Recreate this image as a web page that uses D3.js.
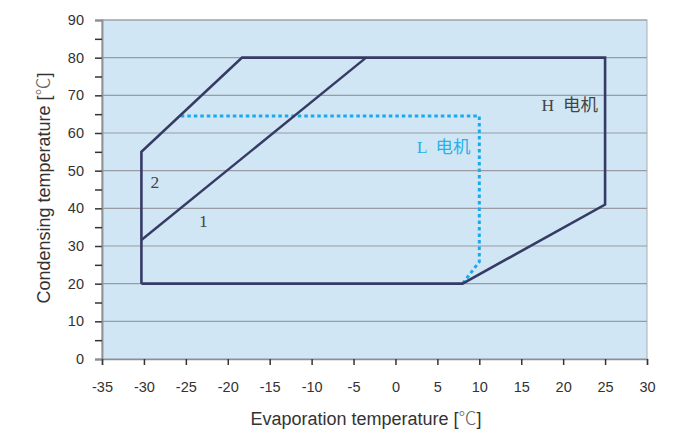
<!DOCTYPE html>
<html lang="en">
  <head>
    <meta charset="UTF-8" />
    <title>Operating envelope</title>
    <script src="https://d3js.org/d3.v7.min.js"></script>
    <style>
      body {
        margin: 0;
        background: #fff;
        font-family: "Liberation Sans", Arial, sans-serif;
      }
      .tick text {
        font-size: 14.5px;
        fill: #333;
      }
      .axis-title {
        font-size: 18px;
        fill: #333;
      }
      .deg {
        font-family: "Noto Sans CJK SC", sans-serif;
        font-weight: 300;
        fill: #666;
      }
      .zone {
        font-family: "Liberation Serif", "Noto Sans CJK SC", serif;
        font-size: 17.5px;
        white-space: pre;
      }
    </style>
  </head>
  <body>
    <svg id="chart" width="684" height="433"></svg>
    <script>
      // evaporation temp (x), condensing temp (y)
      let xTicks = [-35, -30, -25, -20, -15, -10, -5, 0, 5, 10, 15, 20, 25, 30];
      let yTicks = [0, 10, 20, 30, 40, 50, 60, 70, 80, 90];
      let yMinor = [5, 15, 25, 35, 45, 55, 65, 75, 85];

      // H motor envelope
      let hEnvelope = [
        [-30.3, 20],
        [-30.3, 55],
        [-18.3, 80],
        [25, 80],
        [25, 41],
        [8, 20],
        [-30.3, 20],
      ];
      // divider between zone 1 and zone 2
      let divider = [
        [-30.3, 31.6],
        [-3.5, 80],
      ];
      // L motor limit (dotted)
      let lEnvelope = [
        [-25.6, 64.5],
        [10, 64.5],
        [10, 25.8],
        [8, 20],
      ];
      let zoneLabels = [
        { x: -28.7, y: 46.4, text: "2", color: "#444" },
        { x: -22.9, y: 36.2, text: "1", color: "#444" },
      ];
      let motorLabels = [
        { x: 24.15, y: 66.9, text: "H  电机", color: "#444" },
        { x: 8.95, y: 55.8, text: "L  电机", color: "#29b0ea" },
      ];

      let svg = d3.select("#chart");
      let mLeft = 102,
        mRight = 647,
        mTop = 20,
        mBottom = 359;

      let x = d3.scaleLinear().domain([-35, 30]).range([mLeft, mRight]);
      let y = d3.scaleLinear().domain([0, 90]).range([mBottom, mTop]);

      // background
      svg
        .append("rect")
        .attr("x", mLeft)
        .attr("y", mTop)
        .attr("width", mRight - mLeft)
        .attr("height", mBottom - mTop)
        .attr("fill", "#d1e6f4")
        .attr("stroke", "#a8adb3")
        .attr("stroke-width", 1);

      // horizontal grid
      svg
        .append("g")
        .selectAll("line")
        .data(yTicks.slice(1))
        .join("line")
        .attr("x1", mLeft)
        .attr("x2", mRight)
        .attr("y1", (d) => y(d))
        .attr("y2", (d) => y(d))
        .attr("stroke", "#989ca2")
        .attr("stroke-width", 1.2);

      // axes
      let fmt = (d) => String(d);
      svg
        .append("g")
        .attr("transform", `translate(${mLeft},0)`)
        .call(d3.axisLeft(y).tickValues(yTicks).tickSize(7).tickPadding(11).tickFormat(fmt));
      svg
        .append("g")
        .attr("transform", `translate(${mLeft},0)`)
        .call(d3.axisLeft(y).tickValues(yMinor).tickSize(7).tickFormat(""));
      svg
        .append("g")
        .attr("transform", `translate(0,${mBottom})`)
        .call(d3.axisBottom(x).tickValues(xTicks).tickSize(6).tickPadding(17).tickFormat(fmt));
      svg.selectAll(".domain").attr("stroke", "#8d9196").attr("stroke-width", 1.5);
      svg.selectAll(".tick line").attr("stroke", "#333").attr("stroke-width", 1.5);
      svg.selectAll(".tick text").attr("font-family", "Liberation Sans, Arial, sans-serif");

      let line = d3
        .line()
        .x((d) => x(d[0]))
        .y((d) => y(d[1]));

      svg
        .append("path")
        .attr("d", line(lEnvelope))
        .attr("fill", "none")
        .attr("stroke", "#1aa9ec")
        .attr("stroke-width", 3)
        .attr("stroke-dasharray", "3.5,3");

      svg
        .append("path")
        .attr("d", line(hEnvelope))
        .attr("fill", "none")
        .attr("stroke", "#363b66")
        .attr("stroke-width", 2.6)
        .attr("stroke-linejoin", "miter");

      svg
        .append("path")
        .attr("d", line(divider))
        .attr("fill", "none")
        .attr("stroke", "#363b66")
        .attr("stroke-width", 2.4);

      svg
        .append("g")
        .selectAll("text")
        .data(zoneLabels)
        .join("text")
        .attr("class", "zone")
        .attr("x", (d) => x(d.x))
        .attr("y", (d) => y(d.y))
        .attr("text-anchor", "middle")
        .attr("dominant-baseline", "middle")
        .attr("fill", (d) => d.color)
        .text((d) => d.text);

      svg
        .append("g")
        .selectAll("text")
        .data(motorLabels)
        .join("text")
        .attr("class", "zone")
        .attr("x", (d) => x(d.x))
        .attr("y", (d) => y(d.y))
        .attr("text-anchor", "end")
        .attr("dominant-baseline", "middle")
        .attr("fill", (d) => d.color)
        .text((d) => d.text);

      // axis titles
      function axisTitle(sel, label) {
        sel.append("tspan").text(label + " [");
        sel.append("tspan").attr("class", "deg").text("℃");
        sel.append("tspan").text("]");
      }
      svg
        .append("text")
        .attr("class", "axis-title")
        .attr("x", 366)
        .attr("y", 425)
        .attr("text-anchor", "middle")
        .call(axisTitle, "Evaporation temperature");
      svg
        .append("text")
        .attr("class", "axis-title")
        .attr("transform", `translate(50,188) rotate(-90)`)
        .attr("text-anchor", "middle")
        .call(axisTitle, "Condensing temperature");
    </script>
  </body>
</html>
